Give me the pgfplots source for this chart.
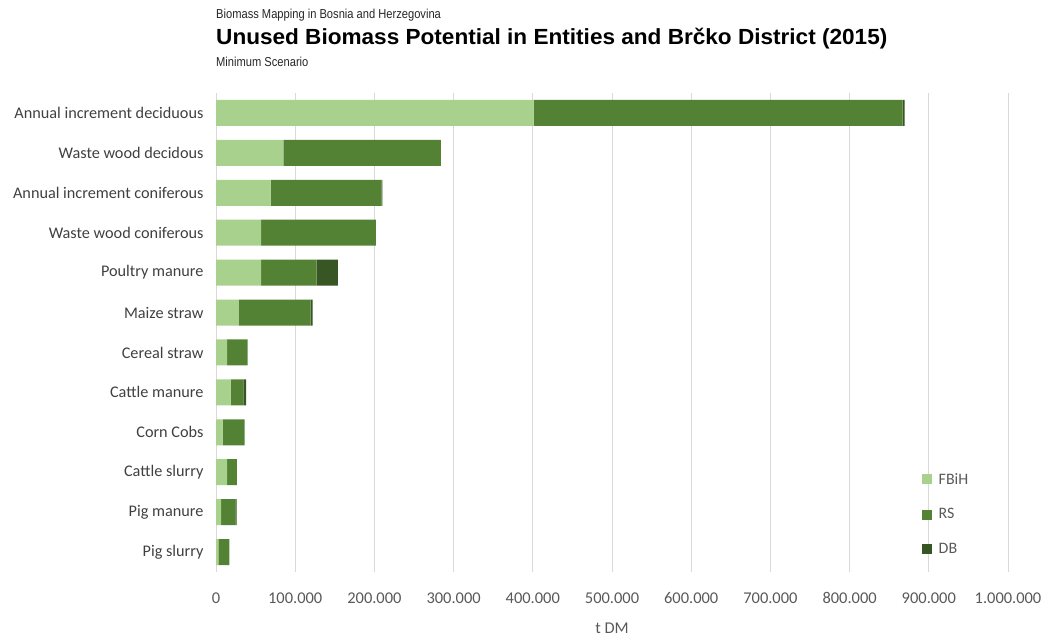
\documentclass[border=0pt]{standalone}
\usepackage{fontspec}
\setmainfont{Carlito}
\newfontfamily\hfont{Liberation Sans}
\usepackage{pgfplots}
\pgfplotsset{compat=1.18}
\definecolor{cF}{HTML}{A9D18E}
\definecolor{cR}{HTML}{548235}
\definecolor{cD}{HTML}{375623}
\definecolor{gridc}{HTML}{D9D9D9}
\definecolor{txt}{HTML}{595959}
\definecolor{ylab}{HTML}{404040}
\begin{document}
\begin{tikzpicture}[x=1bp,y=1bp]
\useasboundingbox (0,0) rectangle (1050,638);
\begin{axis}[at={(216bp,66bp)}, anchor=south west, scale only axis,
  width=792bp, height=479bp,
  xbar stacked, bar width=26bp,
  xmin=0, xmax=1000000, ymin=-0.5, ymax=11.5,
  ytick={0,...,11},
  yticklabels={Pig slurry, Pig manure, Cattle slurry, Corn Cobs, Cattle manure, Cereal straw, Maize straw, Poultry manure, Waste wood coniferous, Annual increment coniferous, Waste wood decidous, Annual increment deciduous},
  xtick={0,100000,200000,300000,400000,500000,600000,700000,800000,900000,1000000},
  xticklabels={0,100.000,200.000,300.000,400.000,500.000,600.000,700.000,800.000,900.000,1.000.000},
  scaled x ticks=false,
  axis line style={draw=none},
  major tick length=0pt,
  xmajorgrids, grid style={gridc, line width=0.9bp},
  xticklabel style={font=\fontsize{16.5}{18}\selectfont, text=txt, yshift=-17bp},
  yticklabel style={font=\fontsize{16.3}{18}\selectfont, text=ylab, xshift=-9bp},
  legend style={at={(0.887,0.215)}, anchor=north west, draw=none, fill=none,
    font=\fontsize{16}{18}\selectfont, text=txt, row sep=19bp,
    /tikz/every odd column/.append style={column sep=5bp}},
  legend cell align=left,
  legend image code/.code={\fill[#1] (0bp,-5bp) rectangle (10bp,5bp);},
]
\addplot[fill=cF, draw=none] coordinates {(401000,11) (85000,10) (69000,9) (57000,8) (57000,7) (29000,6) (14000,5) (18500,4) (8500,3) (14000,2) (6500,1) (3000,0)};
\addplot[fill=cR, draw=none] coordinates {(466000,11) (199000,10) (140000,9) (145000,8) (70000,7) (90500,6) (26000,5) (16000,4) (27500,3) (12500,2) (18000,1) (14000,0)};
\addplot[fill=cD, draw=none] coordinates {(2500,11) (0,10) (1000,9) (0,8) (27000,7) (2500,6) (0,5) (3500,4) (0,3) (0,2) (1500,1) (0,0)};
\legend{FBiH, RS, DB}
\end{axis}
\node[anchor=west, inner sep=0pt, text=black!85] at (216,623) {\scalebox{0.86}[1]{\hfont\fontsize{13}{15}\selectfont Biomass Mapping in Bosnia and Herzegovina}};
\node[anchor=west, inner sep=0pt] at (216,599) {\scalebox{1.03}[1]{\hfont\bfseries\fontsize{22}{25}\selectfont Unused Biomass Potential in Entities and Brčko District (2015)}};
\node[anchor=west, inner sep=0pt, text=black!85] at (216,576) {\scalebox{0.86}[1]{\hfont\fontsize{13}{15}\selectfont Minimum Scenario}};
\node[text=txt, font=\fontsize{16.5}{18}\selectfont] at (612,10) {t DM};
\end{tikzpicture}
\end{document}
